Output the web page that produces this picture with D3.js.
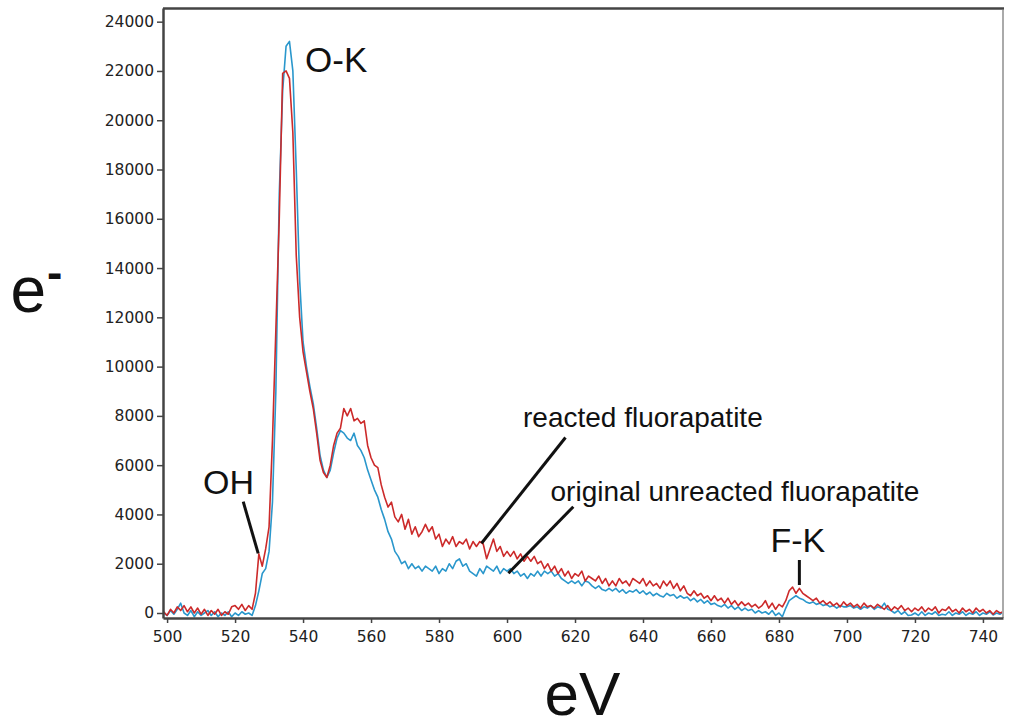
<!DOCTYPE html>
<html>
<head>
<meta charset="utf-8">
<script src="https://cdn.jsdelivr.net/npm/d3@7"></script>
<style>
  html, body { margin: 0; padding: 0; background: #fff; }
  svg { display: block; }
</style>
</head>
<body>
<svg id="chart" width="1010" height="722"></svg>
<script>
// ---------------- DATA ----------------
const energyStart = 499;   // eV of first sample, 1 eV per sample
const energyEnd = 746;

const xTicks = [500, 520, 540, 560, 580, 600, 620, 640, 660, 680, 700, 720, 740];
const yTicks = [0, 2000, 4000, 6000, 8000, 10000, 12000, 14000, 16000, 18000, 20000, 22000, 24000];

// reacted fluorapatite (red), 499..746 eV
const reacted = [
  50, -100, 150, 0, 250, 100, 300, 50, 250, 0,            // 499-508
  200, -50, 150, -100, 100, -50, 150, -100, 50, -50,      // 509-518
  250, 300, 150, 350, 100, 300, 150, 800, 2400, 1900,     // 519-528
  2600, 3500, 7000, 11500, 16000, 21900, 22000, 21700, 19500, 14500, // 529-538
  12000, 10600, 9800, 9000, 8300, 7300, 6200, 5700, 5500, 6000,      // 539-548
  6800, 7300, 7500, 8300, 8000, 8300, 7800, 7900, 7700, 7800,        // 549-558
  6800, 6300, 6000, 5900, 5200, 4700, 4300, 4500, 3900, 3700,        // 559-568
  4000, 3400, 3800, 3200, 3500, 3100, 3300, 3600, 3300, 3500,        // 569-578
  3000, 3200, 2700, 3000, 2800, 3100, 2700, 2900, 2800, 3000,        // 579-588
  2600, 2900, 2700, 2900, 2800, 2200, 2600, 3000, 2500, 2700,        // 589-598
  2300, 2500, 2300, 2500, 2200, 2400, 2100, 2300, 2100, 2300,        // 599-608
  2000, 2100, 1800, 2000, 1700, 1900, 1600, 1800, 1500, 1700,        // 609-618
  1400, 1600, 1500, 1700, 1300, 1500, 1400, 1300, 1500, 1200,        // 619-628
  1400, 1100, 1300, 1100, 1400, 1200, 1300, 1100, 1400, 1300,        // 629-638
  1200, 1400, 1100, 1300, 1100, 1200, 1000, 1300, 1100, 1300,        // 639-648
  1000, 1200, 900, 1100, 800, 700, 900, 700, 800, 600,               // 649-658
  700, 500, 700, 500, 600, 400, 600, 350, 500, 300,                  // 659-668
  450, 300, 400, 250, 350, 200, 300, 500, 200, 400,                  // 669-678
  150, 350, 250, 500, 900, 1050, 800, 1000, 800, 700,                // 679-688
  600, 500, 600, 400, 500, 350, 450, 300, 400, 250,                  // 689-698
  450, 300, 400, 250, 350, 200, 400, 250, 300, 200,                  // 699-708
  350, 250, 150, 300, 100, 250, 150, 300, 100, 200,                  // 709-718
  50, 200, 100, 250, 50, 200, 100, 250, 0, 150,                      // 719-728
  100, 250, 50, 150, 0, 200, 50, 150, 0, 200,                        // 729-738
  50, 150, 0, 100, -50, 100, 0, 50                                   // 739-746
];

// original unreacted fluorapatite (blue), 499..746 eV
const original = [
  0, -100, 100, -50, 150, 400, 0, -100, 100, -150,        // 499-508
  50, -100, 0, 100, -100, 50, -150, 0, -100, 50,          // 509-518
  -150, 0, -100, 50, -50, 0, -100, 300, 900, 1600,        // 519-528
  1800, 2500, 4500, 9000, 17000, 21200, 23000, 23200, 22000, 18000, // 529-538
  13500, 11000, 10000, 9200, 8500, 7500, 6400, 5800, 5500, 5800,    // 539-548
  6500, 7100, 7400, 7300, 7100, 7000, 7300, 6800, 6600, 6300,       // 549-558
  5800, 5400, 5000, 4700, 4200, 3800, 3300, 3000, 2500, 2300,       // 559-568
  2000, 2100, 1800, 2000, 1800, 1900, 1700, 1900, 1800, 1700,       // 569-578
  1900, 1600, 1800, 1700, 2000, 1800, 2100, 2200, 1900, 2000,       // 579-588
  1700, 1600, 1500, 1800, 1600, 1900, 1800, 1700, 1900, 1600,       // 589-598
  1800, 1700, 1800, 1600, 1700, 1500, 1600, 1400, 1600, 1500,       // 599-608
  1700, 1500, 1700, 1600, 1700, 1500, 1600, 1400, 1300, 1200,       // 609-618
  1300, 1200, 1300, 1100, 1300, 1250, 1100, 1000, 1100, 950,        // 619-628
  900, 1000, 900, 1000, 850, 950, 800, 900, 850, 950,               // 629-638
  800, 900, 750, 850, 700, 800, 700, 650, 800, 700,                 // 639-648
  750, 600, 700, 600, 650, 500, 600, 450, 550, 400,                 // 649-658
  500, 350, 400, 300, 250, 350, 200, 300, 150, 250,                 // 659-668
  100, 200, 100, 150, 0, 100, 0, 50, -50, 100,                      // 669-678
  -100, 0, -150, 200, 500, 600, 700, 600, 550, 450,                 // 679-688
  400, 450, 350, 400, 300, 350, 250, 300, 200, 300,                 // 689-698
  250, 250, 300, 200, 250, 150, 250, 200, 300, 150,                 // 699-708
  250, 200, 400, 150, 100, 0, 100, -50, 50, -100,                   // 709-718
  -80, 0, -100, 50, -100, 0, -50, 50, -100, -50,                    // 719-728
  -80, 50, -100, 0, -50, 50, -100, 0, -50, 50,                      // 729-738
  -100, 0, -50, 50, -80, 0, -50, 50                                 // 739-746
];

const seriesNames = ["original unreacted fluorapatite", "reacted fluorapatite"];

// annotation labels (eV, counts)
const labelTexts = ["O-K", "OH", "F-K", "reacted fluorapatite", "original unreacted fluorapatite"];
const labelEV    = [540.6, 510.6, 677.5, 604.7, 612.8];
const labelCount = [21958, 4830, 2488, 7549, 4546];

// pointer lines (eV/counts of both ends)
const pointerFromEV = [522.4, 686.0, 617.2, 619.5];
const pointerFromC  = [4517, 2151, 7123, 4314];
const pointerToEV   = [526.8, 686.0, 592.5, 600.4];
const pointerToC    = [2423, 1136, 2829, 1611];

// ---------------- CHART ----------------
(function () {
const svg = d3.select("#chart");
const W = 1010, H = 722;
const mLeft = 163, mRight = 1003, mTop = 8, mBottom = 618;

const x = d3.scaleLinear().domain([498.8, 745.9]).range([mLeft, mRight]);
const y = d3.scaleLinear().domain([-203, 24555]).range([mBottom, mTop]);

svg.append("rect").attr("width", W).attr("height", H).attr("fill", "#fff");

svg.append("defs").append("clipPath").attr("id", "clip")
  .append("rect").attr("x", mLeft).attr("y", mTop).attr("width", mRight - mLeft).attr("height", mBottom - mTop);

const energies = d3.range(energyStart, energyEnd + 1);

const line = d3.line()
  .x((d, i) => x(energies[i]))
  .y(d => y(d))
  .curve(d3.curveLinear);

const colors = ["#2a97cc", "#cc2a2a"];
const plot = svg.append("g").attr("clip-path", "url(#clip)");
[original, reacted].forEach((s, k) => {
  plot.append("path")
    .datum(s)
    .attr("fill", "none")
    .attr("stroke", colors[k])
    .attr("stroke-width", 1.6)
    .attr("stroke-linejoin", "round")
    .attr("d", line);
});

// frame: top dark, right light
svg.append("line").attr("x1", mLeft).attr("x2", mRight + 1).attr("y1", mTop + 0.5).attr("y2", mTop + 0.5)
  .attr("stroke", "#444").attr("stroke-width", 2.5);
svg.append("line").attr("x1", mRight).attr("x2", mRight).attr("y1", mTop + 2).attr("y2", mBottom)
  .attr("stroke", "#aaa").attr("stroke-width", 2);

// axes
const yAxis = d3.axisLeft(y).tickValues(yTicks).tickFormat(d3.format("d"))
  .tickSize(6).tickSizeOuter(0).tickPadding(3);
const gy = svg.append("g").attr("transform", `translate(${mLeft},0)`).call(yAxis);
gy.select(".domain").attr("stroke", "#444").attr("stroke-width", 2.5);
gy.selectAll(".tick line").attr("stroke", "#444").attr("stroke-width", 1.5);
gy.selectAll(".tick text").attr("font-family", "'DejaVu Sans', Verdana, sans-serif")
  .attr("font-size", 15.5).attr("fill", "#222");

const xAxis = d3.axisBottom(x).tickValues(xTicks).tickFormat(d3.format("d"))
  .tickSize(5).tickSizeOuter(0).tickPadding(8);
const gx = svg.append("g").attr("transform", `translate(0,${mBottom})`).call(xAxis);
gx.select(".domain").attr("stroke", "#444").attr("stroke-width", 2.5);
gx.selectAll(".tick line").attr("stroke", "#444").attr("stroke-width", 1.5);
gx.selectAll(".tick text").attr("font-family", "'DejaVu Sans', Verdana, sans-serif")
  .attr("font-size", 15.5).attr("fill", "#222");

// axis titles
const yTitle = svg.append("text")
  .attr("x", 10.5).attr("y", 312)
  .attr("font-family", "'Liberation Sans', Arial, Helvetica, sans-serif")
  .attr("font-size", 64).attr("fill", "#111");
yTitle.append("tspan").text("e");
yTitle.append("tspan").text("-").attr("font-size", 46).attr("font-weight", "bold")
  .attr("dx", 1).attr("dy", -24);

svg.append("text")
  .attr("x", 582.5).attr("y", 715)
  .attr("text-anchor", "middle")
  .attr("font-family", "'Liberation Sans', Arial, Helvetica, sans-serif")
  .attr("font-size", 62).attr("fill", "#111")
  .text("eV");

// annotations
const labelSizes = [35, 34, 34, 28, 28];
labelTexts.forEach((t, i) => {
  svg.append("text")
    .attr("x", x(labelEV[i])).attr("y", y(labelCount[i]))
    .attr("font-family", "'Liberation Sans', Arial, Helvetica, sans-serif")
    .attr("font-size", labelSizes[i]).attr("fill", "#111")
    .text(t);
});
pointerFromEV.forEach((e, i) => {
  svg.append("line")
    .attr("x1", x(e)).attr("y1", y(pointerFromC[i]))
    .attr("x2", x(pointerToEV[i])).attr("y2", y(pointerToC[i]))
    .attr("stroke", "#111").attr("stroke-width", 3);
});
})();
</script>
</body>
</html>
